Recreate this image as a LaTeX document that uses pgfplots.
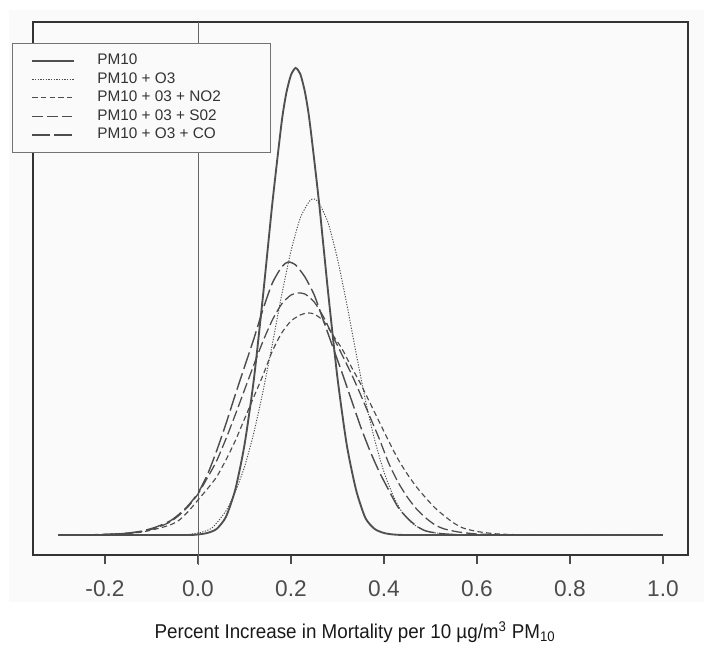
\documentclass[border=0pt]{standalone}
\usepackage{fontspec}
\setmainfont{Liberation Sans}
\newfontfamily\narrowfont{Liberation Sans}[FakeStretch=0.94]
\usepackage{pgfplots}
\pgfplotsset{compat=1.18}
\definecolor{bgc}{RGB}{250,250,250}
\definecolor{cv}{RGB}{80,80,80}
\begin{document}
\begin{tikzpicture}
\path (-24.75pt,-69.75pt) rectangle (503.25pt,416.25pt);
\fill[bgc] (-18pt,-35.25pt) rectangle (503.25pt,408.75pt);
\begin{axis}[
  at={(0,0)}, anchor=south west,
  scale only axis, width=491.25pt, height=399.75pt,
  xmin=-0.3548, xmax=1.0538, ymin=-20, ymax=513,
  clip=false,
  axis line style={draw=black!80, line width=0.8pt},
  xtick={-0.2,0,0.2,0.4,0.6,0.8,1.0},
  ytick=\empty,
  xtick pos=bottom,
  xtick align=outside,
  major tick length=7pt,
  every tick/.style={black!70, line width=0.8pt},
  xticklabel style={font=\fontsize{17}{20}\selectfont, text=black!70, anchor=center, yshift=-18.5pt},
  /pgf/number format/.cd, fixed, fixed zerofill, precision=1, assume math mode=true,
  /pgfplots/.cd,
  xlabel={\narrowfont Percent Increase in Mortality per 10 µg/m\textsuperscript{3} PM\textsubscript{10}},
  xlabel style={font=\fontsize{15}{18}\selectfont, text=black!90, at={(axis description cs:0.4916,0)}, anchor=center, yshift=-57.75pt},
  no markers,
  legend cell align=left,
  legend image code/.code={\draw[#1] (0pt,0pt) -- (31.5pt,0pt);},
  legend style={at={(-0.032,0.9606)}, anchor=north west, draw=black!55, fill=bgc, line width=0.6pt,
    font=\fontsize{11.5}{13}\selectfont, text=black!80, inner xsep=14.25pt, inner ysep=8pt,
    row sep=3.9pt, column sep=16.5pt, cells={anchor=west},
    nodes={inner sep=0pt, text height=8pt, text depth=2pt}},
]
\addplot[black!60, line width=0.6pt, forget plot] coordinates {(0,-30) (0,513)};

% PM10
\addplot[cv, line width=1.4pt, smooth, tension=0.4] coordinates {
(-0.30,0) (-0.10,0) (-0.02,0) (0.00,0.5) (0.02,2) (0.04,6) (0.06,18) (0.08,45) (0.10,90)
(0.12,155) (0.14,240) (0.16,332) (0.18,413) (0.19,442) (0.20,460) (0.21,467) (0.22,461)
(0.23,443) (0.24,414) (0.26,334) (0.28,242) (0.30,157) (0.32,90) (0.34,45) (0.36,17)
(0.38,6) (0.40,2) (0.42,0.5) (0.45,0) (0.60,0) (1.00,0)};
\addlegendentry{\makebox[115.5pt][l]{PM10}}

% PM10 + O3
\addplot[black!70, line width=0.7pt, dash pattern=on 0.9pt off 1.1pt, smooth, tension=0.4] coordinates {
(-0.30,0) (-0.05,0) (0.00,2) (0.03,7) (0.06,24) (0.08,43) (0.10,68) (0.12,102) (0.14,144)
(0.16,191) (0.18,240) (0.20,284) (0.22,317) (0.24,334) (0.25,336) (0.26,332) (0.28,312)
(0.30,276) (0.32,231) (0.34,182) (0.36,135) (0.38,95) (0.40,63) (0.42,39) (0.44,22)
(0.46,12) (0.48,6) (0.50,3) (0.53,1) (0.57,0) (1.00,0)};
\addlegendentry{\makebox[115.5pt][l]{PM10 + O3}}

% PM10 + 03 + NO2
\addplot[black!70, line width=0.85pt, dash pattern=on 4pt off 2.5pt, smooth, tension=0.4] coordinates {
(-0.30,0) (-0.22,0.3) (-0.18,0.8) (-0.15,1.5) (-0.12,3) (-0.09,6) (-0.06,10) (-0.04,15)
(-0.02,24) (0.00,35) (0.02,46) (0.04,58) (0.06,75) (0.08,94) (0.10,116) (0.12,138)
(0.14,160) (0.16,184) (0.18,202) (0.20,214) (0.22,220) (0.235,222) (0.25,221) (0.27,214)
(0.29,200) (0.31,186) (0.33,168) (0.35,151) (0.37,132) (0.39,113) (0.41,94) (0.43,76)
(0.45,61) (0.47,48) (0.49,37) (0.51,27) (0.53,19) (0.55,12) (0.57,7) (0.60,3.5)
(0.64,1.2) (0.68,0.4) (0.74,0) (1.00,0)};
\addlegendentry{\makebox[115.5pt][l]{PM10 + 03 + NO2}}

% PM10 + 03 + S02
\addplot[black!70, line width=0.95pt, dash pattern=on 8pt off 3pt, smooth, tension=0.4] coordinates {
(-0.30,0) (-0.22,0.3) (-0.18,1) (-0.15,1.8) (-0.12,3.5) (-0.09,7) (-0.06,13) (-0.04,20)
(-0.02,29) (0.00,41) (0.02,57) (0.04,74) (0.06,96) (0.08,120) (0.10,145) (0.12,170)
(0.14,194) (0.16,215) (0.18,231) (0.20,240) (0.215,242) (0.23,241) (0.25,233) (0.27,218)
(0.29,199) (0.31,180) (0.33,161) (0.35,140) (0.37,118) (0.39,96) (0.41,72) (0.43,53)
(0.45,38) (0.47,26) (0.49,17) (0.51,10) (0.53,6) (0.56,3) (0.60,1) (0.65,0.3) (0.70,0) (1.00,0)};
\addlegendentry{\makebox[115.5pt][l]{PM10 + 03 + S02}}

% PM10 + O3 + CO
\addplot[black!70, line width=1.05pt, dash pattern=on 13pt off 3.5pt, smooth, tension=0.4] coordinates {
(-0.30,0) (-0.22,0.3) (-0.18,1) (-0.15,2) (-0.12,4) (-0.09,8) (-0.06,14) (-0.04,21)
(-0.02,30) (0.00,42) (0.02,60) (0.04,84) (0.06,111) (0.08,140) (0.10,168) (0.12,196)
(0.14,226) (0.16,252) (0.18,268) (0.194,273) (0.21,270) (0.23,258) (0.25,240) (0.27,214)
(0.29,188) (0.31,162) (0.33,135) (0.35,108) (0.37,84) (0.39,63) (0.41,45) (0.43,28)
(0.45,17) (0.47,9) (0.49,4) (0.52,1.5) (0.56,0.3) (0.62,0) (1.00,0)};
\addlegendentry{\makebox[115.5pt][l]{PM10 + O3 + CO}}
\end{axis}
\end{tikzpicture}
\end{document}
